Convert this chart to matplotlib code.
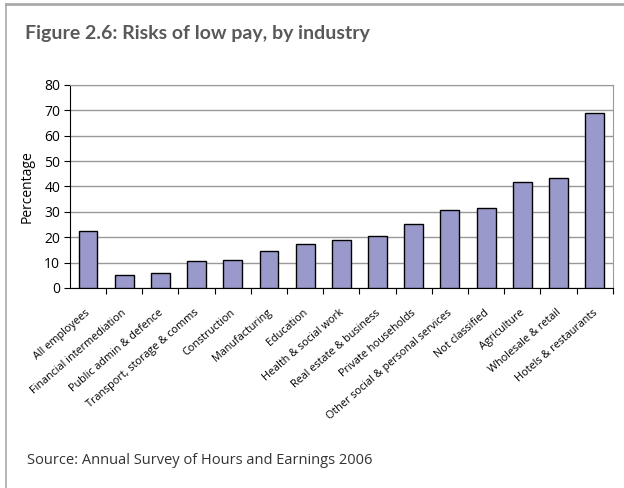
import matplotlib.pyplot as plt
from matplotlib.lines import Line2D

industries = [
    "All employees", "Financial intermediation", "Public admin & defence",
    "Transport, storage & comms", "Construction", "Manufacturing",
    "Education", "Health & social work", "Real estate & business",
    "Private households", "Other social & personal services",
    "Not classified", "Agriculture", "Wholesale & retail",
    "Hotels & restaurants",
]
low_pay_pct = [22.3, 5.1, 5.9, 10.7, 11.1, 14.6, 17.4, 19.0, 20.5,
               25.0, 30.9, 31.6, 41.7, 43.5, 68.9]
y_ticks = [0, 10, 20, 30, 40, 50, 60, 70, 80]

plt.rcParams['font.family'] = ['Open Sans', 'DejaVu Sans']

fig = plt.figure(figsize=(6.24, 4.88), dpi=100)
ax = fig.add_axes([0.112, 0.41, 0.87, 0.416])

x = range(len(industries))
ax.bar(x, low_pay_pct, width=0.52, color='#9999CC', edgecolor='black',
       linewidth=1.0, zorder=3)

ax.set_xlim(-0.5, len(industries) - 0.5)
ax.set_ylim(0, 80)
ax.set_yticks(y_ticks)
ax.tick_params(axis='y', labelsize=10, length=4, direction='out', pad=3)
ax.yaxis.grid(True, color='#999999', linewidth=1.0, zorder=0)

# ticks on the category boundaries, labels under the bars
ax.set_xticks([i + 0.5 for i in x])
ax.set_xticklabels([])
ax.set_xticks(list(x), minor=True)
ax.set_xticklabels(industries, minor=True, rotation=41, ha='right',
                   va='center_baseline', rotation_mode='anchor', fontsize=7.8)
ax.tick_params(axis='x', which='major', length=4, direction='out')
ax.tick_params(axis='x', which='minor', length=0, pad=16)

ax.set_ylabel("Percentage", fontsize=10, labelpad=7)

for side in ['top', 'right']:
    ax.spines[side].set_color('#999999')
for side in ['left', 'bottom']:
    ax.spines[side].set_color('black')

# page frame: top and left only
fig.add_artist(Line2D([0.009, 1.0], [0.991, 0.991], color='#aaaaaa',
                      linewidth=2.0, transform=fig.transFigure))
fig.add_artist(Line2D([0.009, 0.009], [0.0, 0.991], color='#aaaaaa',
                      linewidth=1.2, transform=fig.transFigure))

fig.text(0.04, 0.932, "Figure 2.6: Risks of low pay, by industry",
         fontsize=14, fontweight='bold', color='#58595B', va='center',
         family=['Lato', 'DejaVu Sans'])
fig.text(0.043, 0.057, "Source: Annual Survey of Hours and Earnings 2006",
         fontsize=10.5, color='#333333', va='center')

fig.savefig("out.png", dpi=100)
